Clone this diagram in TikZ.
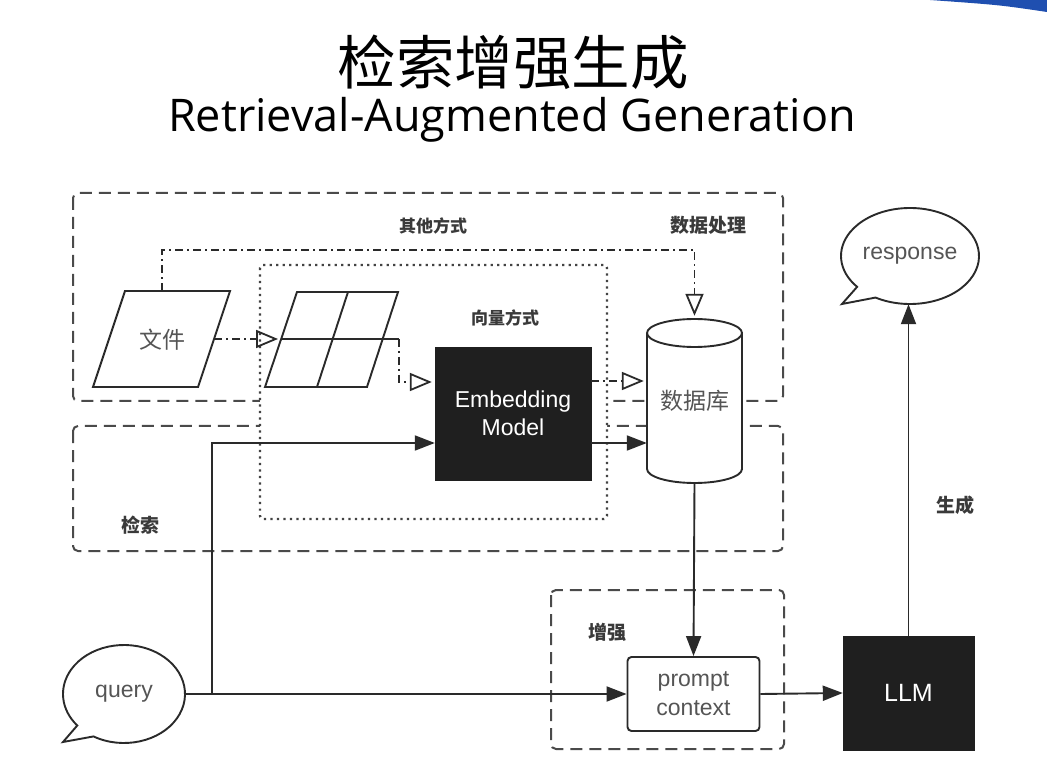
\documentclass[tikz,border=0pt]{standalone}
\usepackage{fontspec}
\setmainfont{Liberation Sans}
\newfontfamily\cjk{Noto Sans CJK SC}
\newfontfamily\titlefont{Open Sans}
\usetikzlibrary{arrows.meta,calc,shapes.geometric}
\definecolor{ln}{HTML}{2A2A2A}
\definecolor{bx}{HTML}{4A4A4A}
\definecolor{tx}{HTML}{3A3A3A}
\definecolor{lt}{HTML}{555555}
\definecolor{deco}{HTML}{1F4FB0}
\begin{document}
\begin{tikzpicture}[x=1pt,y=-1pt,
  groupbox/.style={draw=bx, line width=2pt, dash pattern=on 12pt off 7pt, rounded corners=5pt},
  dotbox/.style={draw=bx!90!black, line width=2.4pt, dash pattern=on 2.2pt off 4.3pt, fill=white, rounded corners=3pt},
  shapeline/.style={draw=ln, line width=1.9pt},
  ddline/.style={draw=ln, line width=1.7pt, dash pattern=on 8pt off 4pt on 2pt off 4pt},
  openhead/.style={-{Triangle[open,length=22pt,width=18pt,line width=1.8pt]}, shorten >=3pt},
  solidline/.style={draw=ln, line width=1.9pt, -{Triangle[length=20pt,width=15pt]}},
  grouplabel/.style={text=tx, font=\cjk\bfseries\fontsize{17}{20}\selectfont},
  biglabel/.style={text=tx, font=\cjk\bfseries\fontsize{19}{22}\selectfont},
  blackbox/.style={fill=black!88, draw=black!88, text=white, inner sep=0pt, font=\fontsize{23}{28}\selectfont, align=center},
  plainlabel/.style={text=lt, font=\fontsize{23}{29}\selectfont, align=center}
]
\fill[white] (0,0) rectangle (1047,783);
\useasboundingbox (0,0) rectangle (1047,783);
% corner decoration
\fill[deco] (930,0) -- (1047,0) -- (1047,12) .. controls (1000,5) .. (930,0) -- cycle;

% title
\node[font=\cjk\fontsize{58.5}{62}\selectfont] (title) at (513,62) {检索增强生成};
\node[font=\titlefont\fontsize{45}{50}\selectfont] (subtitle) at (512,120) {Retrieval-Augmented Generation};

% group boxes
\draw[groupbox] (73,193) rectangle (783,401);
\draw[groupbox] (73,426) rectangle (783,551);
\draw[groupbox] (551,590) rectangle (784,749);
\draw[dotbox] (260,265) rectangle (607,519);

% labels
\node[grouplabel] (lblother) at (433,226) {其他方式};
\node[biglabel] (lbldata) at (708,225) {数据处理};
\node[grouplabel] (lblvec) at (505,318) {向量方式};
\node[biglabel] (lblret) at (140,525) {检索};
\node[biglabel] (lblaug) at (607,632) {增强};
\node[biglabel] (lblgen) at (955,505) {生成};

% file parallelogram
\draw[shapeline, fill=white] (93,387) -- (198,387) -- (230,291) -- (125,291) -- cycle;
\node[text=lt, font=\cjk\fontsize{23}{25}\selectfont] (file) at (162,340) {文件};
\coordinate (fileR) at (214,339);
\coordinate (fileT) at (162,291);

% grid parallelogram
\draw[shapeline, fill=white] (265,387) -- (367,387) -- (398,292) -- (297,292) -- cycle;
\draw[shapeline] (348,292) -- (317,387);
\coordinate (gridL) at (281,339);
\coordinate (gridR) at (399,339);
\draw[shapeline] (gridL) -- (gridR);

% embedding model
\node[blackbox, minimum width=156pt, minimum height=133pt] (emb) at (513,413.5) {Embedding\\Model};

% database cylinder
\filldraw[shapeline, fill=white] (647,333) -- (647,469) arc[start angle=180,end angle=0,x radius=47.5,y radius=14] -- (742,333) arc[start angle=0,end angle=-180,x radius=47.5,y radius=14] -- cycle;
\draw[shapeline] (647,333) arc[start angle=180,end angle=0,x radius=47.5,y radius=14];
\node[minimum width=95pt, minimum height=164pt, inner sep=0pt, text=lt, font=\cjk\fontsize{23}{25}\selectfont] (db) at (694.5,401) {数据库};

% prompt context
\node[draw=ln, line width=1.9pt, rounded corners=4pt, fill=white, minimum width=132pt, minimum height=74pt, plainlabel] (prompt) at (693.5,694) {prompt\\context};

% LLM
\node[blackbox, minimum width=131pt, minimum height=114pt, font=\fontsize{25}{28}\selectfont] (llm) at (908.5,693) {LLM};

% query bubble
\draw[shapeline, fill=white] (63,742) -- ($(124,694)+(120:61 and 49)$) arc[start angle=120,end angle=-220,x radius=61,y radius=49] -- cycle;
\node[ellipse, minimum width=122pt, minimum height=98pt, inner sep=0pt, plainlabel] (query) at (124,694) {query};

% response bubble
\draw[shapeline, fill=white] (842,304) -- ($(910,256)+(120:69 and 48)$) arc[start angle=120,end angle=-220,x radius=69,y radius=48] -- cycle;
\node[ellipse, minimum width=138pt, minimum height=96pt, inner sep=0pt, plainlabel] (resp) at (910,256) {response};

% dash-dot connectors
\draw[ddline, openhead] (fileR) -- (gridL);
\draw[ddline, openhead] (fileT) -- (162,250) -| (db.north);
\draw[ddline, openhead] (gridR) |- (emb.west |- 0,382);
\draw[ddline, openhead] (emb.east |- 0,381) -- (db.west |- 0,381);

% solid connectors
\coordinate (qj) at (212,694);
\draw[solidline] (query.east) -- (prompt.west);
\draw[solidline] (qj) |- (emb.west |- 0,443);
\draw[solidline] (emb.east |- 0,443) -- (db.west |- 0,443);
\draw[solidline] (db.south) -- (prompt.north);
\draw[solidline] (prompt.east) -- (llm.west);
\draw[solidline] (llm.north) -- (llm.north |- resp.south);
\end{tikzpicture}
\end{document}
